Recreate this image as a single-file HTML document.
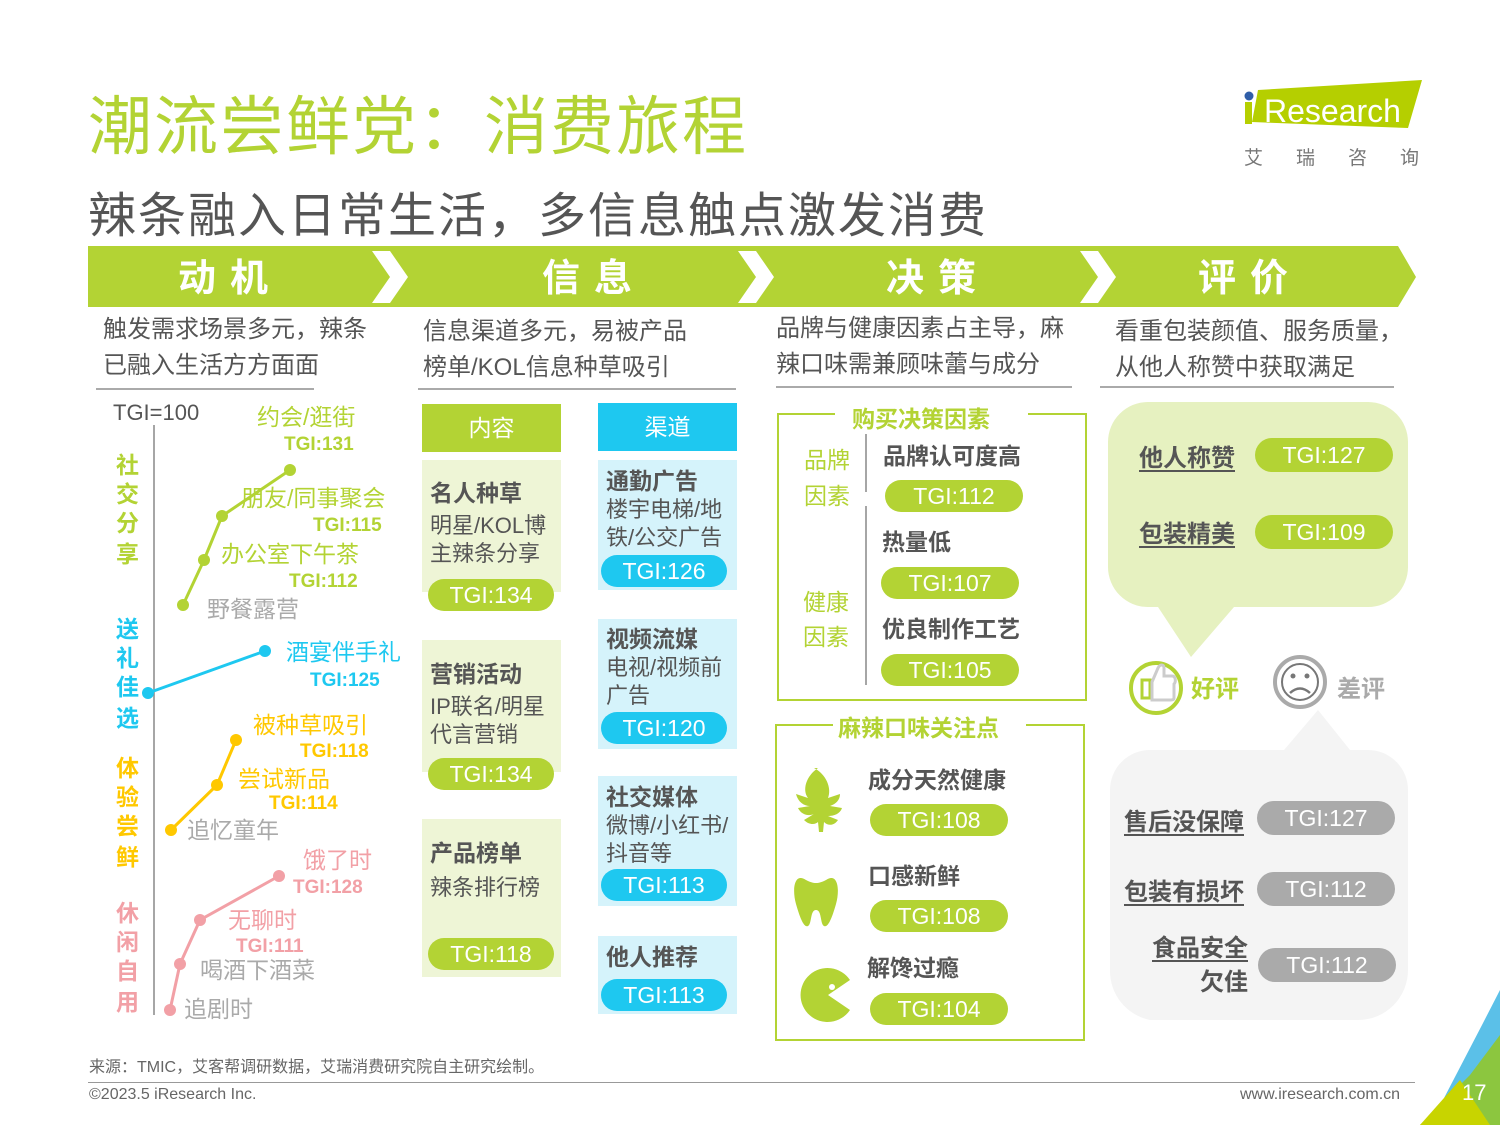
<!DOCTYPE html>
<html><head><meta charset="utf-8">
<style>
*{margin:0;padding:0;box-sizing:border-box}
body{width:1500px;height:1125px;background:#fff;position:relative;overflow:hidden;font-family:"Liberation Sans","Noto Sans CJK SC",sans-serif;color:#555}
.a{position:absolute;white-space:nowrap}
.pill{position:absolute;border-radius:16px;color:#fff;text-align:center;font-size:23px;line-height:32px;height:32px}
.g{background:#b3d334}.b{background:#1ec8f0}.gr{background:#aaa}
.bold{font-weight:bold}
.sub{font-size:24px;color:#555;line-height:36px}
.box{position:absolute}
.u{text-decoration:underline;text-underline-offset:4px}
</style></head><body>
<div class="a" style="left:88px;top:76px;font-size:64px;color:#b3d334;letter-spacing:2px">潮流尝鲜党：消费旅程</div>
<div class="a" style="left:88px;top:176px;font-size:48px;color:#555;letter-spacing:2px">辣条融入日常生活，多信息触点激发消费</div>
<!-- logo -->
<svg class="a" style="left:1240px;top:78px" width="190" height="100">
<polygon points="18,12 182,2 168,50 12,44" fill="#b5cf00"/>
<circle cx="9" cy="18" r="4.5" fill="#2f5ea8"/>
<rect x="5" y="24" width="7" height="22" fill="#b5cf00"/>
<text x="24" y="44" font-size="32" fill="#fff" font-family="Liberation Sans">Research</text>
<text x="4" y="86" font-size="19" fill="#777" font-family="Noto Sans CJK SC" letter-spacing="33">艾瑞咨询</text>
</svg>
<!-- header bar -->
<svg class="a" style="left:88px;top:246px" width="1330" height="62">
<polygon points="0,0 1310,0 1328,31 1310,61 0,61" fill="#b3d334"/>
<g fill="#fff">
<polygon points="284,5 302,5 320,31 302,57 284,57 302,31"/>
<polygon points="650,5 668,5 686,31 668,57 650,57 668,31"/>
<polygon points="992,5 1010,5 1028,31 1010,57 992,57 1010,31"/>
</g>
<g fill="#fff" font-size="38" font-weight="bold" font-family="Noto Sans CJK SC" text-anchor="middle">
<text x="142" y="45" letter-spacing="14">动机</text>
<text x="506" y="45" letter-spacing="14">信息</text>
<text x="850" y="45" letter-spacing="14">决策</text>
<text x="1162" y="45" letter-spacing="14">评价</text>
</g>
</svg>
<div class="a sub" style="left:103px;top:312px">触发需求场景多元，辣条<br>已融入生活方方面面</div>
<div class="a" style="left:96px;top:388px;width:218px;height:2px;background:#aaa"></div>
<div class="a sub" style="left:423px;top:314px">信息渠道多元，易被产品<br>榜单/KOL信息种草吸引</div>
<div class="a" style="left:418px;top:388px;width:318px;height:2px;background:#aaa"></div>
<div class="a sub" style="left:776px;top:311px">品牌与健康因素占主导，麻<br>辣口味需兼顾味蕾与成分</div>
<div class="a" style="left:776px;top:386px;width:296px;height:2px;background:#aaa"></div>
<div class="a sub" style="left:1115px;top:314px">看重包装颜值、服务质量，<br>从他人称赞中获取满足</div>
<div class="a" style="left:1100px;top:386px;width:294px;height:2px;background:#aaa"></div>

<!-- left chart -->
<svg class="a" style="left:0;top:0" width="420" height="1030">
<line x1="154" y1="425" x2="154" y2="1015" stroke="#888" stroke-width="1.5"/>
<polyline points="183,605 204,560 222,516 290,470" fill="none" stroke="#b3d334" stroke-width="3"/>
<g fill="#b3d334"><circle cx="183" cy="605" r="6"/><circle cx="204" cy="560" r="6"/><circle cx="222" cy="516" r="6"/><circle cx="290" cy="470" r="6"/></g>
<polyline points="148,693 265,651" fill="none" stroke="#1ec8f0" stroke-width="3"/>
<g fill="#1ec8f0"><circle cx="148" cy="693" r="6"/><circle cx="265" cy="651" r="6"/></g>
<polyline points="171,830 217,785 236,740" fill="none" stroke="#ffc800" stroke-width="3"/>
<g fill="#ffc800"><circle cx="171" cy="830" r="6"/><circle cx="217" cy="785" r="6"/><circle cx="236" cy="740" r="6"/></g>
<polyline points="170,1010 180,964 200,920 279,876" fill="none" stroke="#f2a0a6" stroke-width="3"/>
<g fill="#f2a0a6"><circle cx="170" cy="1010" r="6"/><circle cx="180" cy="964" r="6"/><circle cx="200" cy="920" r="6"/><circle cx="279" cy="876" r="6"/></g>
<g font-family="Liberation Sans,Noto Sans CJK SC" font-size="23">
<text x="113" y="420" fill="#555" font-size="22">TGI=100</text>
<text x="257" y="425" fill="#b3d334">约会/逛街</text>
<text x="284" y="450" fill="#b3d334" font-size="19" font-weight="bold">TGI:131</text>
<text x="241" y="506" fill="#b3d334">朋友/同事聚会</text>
<text x="313" y="531" fill="#b3d334" font-size="19" font-weight="bold">TGI:115</text>
<text x="221" y="562" fill="#b3d334">办公室下午茶</text>
<text x="289" y="587" fill="#b3d334" font-size="19" font-weight="bold">TGI:112</text>
<text x="207" y="617" fill="#aaa">野餐露营</text>
<text x="286" y="660" fill="#1ec8f0">酒宴伴手礼</text>
<text x="310" y="686" fill="#1ec8f0" font-size="19" font-weight="bold">TGI:125</text>
<text x="253" y="733" fill="#ffc800">被种草吸引</text>
<text x="300" y="757" fill="#ffc800" font-size="19" font-weight="bold">TGI:118</text>
<text x="238" y="787" fill="#ffc800">尝试新品</text>
<text x="269" y="809" fill="#ffc800" font-size="19" font-weight="bold">TGI:114</text>
<text x="187" y="838" fill="#aaa">追忆童年</text>
<text x="303" y="868" fill="#f2a0a6">饿了时</text>
<text x="293" y="893" fill="#f2a0a6" font-size="19" font-weight="bold">TGI:128</text>
<text x="228" y="928" fill="#f2a0a6">无聊时</text>
<text x="236" y="952" fill="#f2a0a6" font-size="19" font-weight="bold">TGI:111</text>
<text x="200" y="978" fill="#aaa">喝酒下酒菜</text>
<text x="184" y="1017" fill="#aaa">追剧时</text>
</g>
<g font-family="Noto Sans CJK SC" font-size="23" font-weight="bold">
<text x="116" y="473" fill="#b3d334">社</text><text x="116" y="502" fill="#b3d334">交</text><text x="116" y="531" fill="#b3d334">分</text><text x="116" y="562" fill="#b3d334">享</text>
<text x="116" y="637" fill="#1ec8f0">送</text><text x="116" y="666" fill="#1ec8f0">礼</text><text x="116" y="695" fill="#1ec8f0">佳</text><text x="116" y="726" fill="#1ec8f0">选</text>
<text x="116" y="776" fill="#ffc800">体</text><text x="116" y="805" fill="#ffc800">验</text><text x="116" y="834" fill="#ffc800">尝</text><text x="116" y="865" fill="#ffc800">鲜</text>
<text x="116" y="921" fill="#f2a0a6">休</text><text x="116" y="950" fill="#f2a0a6">闲</text><text x="116" y="979" fill="#f2a0a6">自</text><text x="116" y="1010" fill="#f2a0a6">用</text>
</g>
</svg>

<!-- info column -->
<div class="box" style="left:422px;top:404px;width:139px;height:48px;background:#b3d334;color:#fff;font-size:23px;text-align:center;line-height:48px">内容</div>
<div class="box" style="left:598px;top:403px;width:139px;height:48px;background:#1ec8f0;color:#fff;font-size:23px;text-align:center;line-height:48px">渠道</div>
<div class="box" style="left:422px;top:460px;width:139px;height:132px;background:#eef5d6"></div>
<div class="box" style="left:422px;top:640px;width:139px;height:132px;background:#eef5d6"></div>
<div class="box" style="left:422px;top:819px;width:139px;height:158px;background:#eef5d6"></div>
<div class="a" style="left:430px;top:476px;font-size:23px;font-weight:bold;line-height:34px">名人种草</div>
<div class="a" style="left:430px;top:512px;font-size:22px;line-height:28px">明星/KOL博<br>主辣条分享</div>
<div class="pill g" style="left:428px;top:579px;width:126px">TGI:134</div>
<div class="a" style="left:430px;top:657px;font-size:23px;font-weight:bold;line-height:34px">营销活动</div>
<div class="a" style="left:430px;top:693px;font-size:22px;line-height:28px">IP联名/明星<br>代言营销</div>
<div class="pill g" style="left:428px;top:758px;width:126px">TGI:134</div>
<div class="a" style="left:430px;top:836px;font-size:23px;font-weight:bold;line-height:34px">产品榜单</div>
<div class="a" style="left:430px;top:874px;font-size:22px;line-height:28px">辣条排行榜</div>
<div class="pill g" style="left:428px;top:938px;width:126px">TGI:118</div>

<div class="box" style="left:598px;top:460px;width:139px;height:130px;background:#d5f3fb"></div>
<div class="box" style="left:598px;top:619px;width:139px;height:130px;background:#d5f3fb"></div>
<div class="box" style="left:598px;top:776px;width:139px;height:130px;background:#d5f3fb"></div>
<div class="box" style="left:598px;top:936px;width:139px;height:78px;background:#d5f3fb"></div>
<div class="a" style="left:606px;top:464px;font-size:23px;font-weight:bold;line-height:34px">通勤广告</div>
<div class="a" style="left:606px;top:496px;font-size:22px;line-height:28px">楼宇电梯/地<br>铁/公交广告</div>
<div class="pill b" style="left:601px;top:555px;width:126px">TGI:126</div>
<div class="a" style="left:606px;top:622px;font-size:23px;font-weight:bold;line-height:34px">视频流媒</div>
<div class="a" style="left:606px;top:654px;font-size:22px;line-height:28px">电视/视频前<br>广告</div>
<div class="pill b" style="left:601px;top:712px;width:126px">TGI:120</div>
<div class="a" style="left:606px;top:780px;font-size:23px;font-weight:bold;line-height:34px">社交媒体</div>
<div class="a" style="left:606px;top:812px;font-size:22px;line-height:28px">微博/小红书/<br>抖音等</div>
<div class="pill b" style="left:601px;top:869px;width:126px">TGI:113</div>
<div class="a" style="left:606px;top:940px;font-size:23px;font-weight:bold;line-height:34px">他人推荐</div>
<div class="pill b" style="left:601px;top:979px;width:126px">TGI:113</div>

<!-- decision -->
<svg class="a" style="left:770px;top:400px" width="330" height="645">
<g fill="none" stroke="#b3d334" stroke-width="2">
<polyline points="65,14 8,14 8,300 316,300 316,14 258,14"/>
<polyline points="63,325 6,325 6,640 314,640 314,325 256,325"/>
</g>
<line x1="96" y1="34" x2="96" y2="92" stroke="#888" stroke-width="1.5"/>
<line x1="96" y1="106" x2="96" y2="285" stroke="#888" stroke-width="1.5"/>
<g fill="#b3d334">
<path d="M48,368 c-12,8 -16,22 -10,30 l-12,-4 c2,8 8,12 14,12 l-12,2 c4,8 12,8 16,6 l-10,6 c6,6 12,4 14,2 l1,10 h4 l1,-10 c4,4 10,4 14,-2 l-10,-4 c6,0 12,-2 14,-8 l-12,-2 c6,-2 10,-6 10,-12 l-12,4 c4,-10 -2,-24 -14,-30 z"/>
<path d="M36,480 c-12,-8 -14,10 -10,24 c4,14 8,24 12,22 c4,-2 2,-16 8,-16 c6,0 4,14 8,16 c4,2 8,-8 12,-22 c4,-14 2,-32 -10,-24 c-8,4 -12,4 -20,0 z"/>
<path d="M80,580 a27,27 0 1 0 0,30 l-22,-15 z"/>
</g>
<circle cx="62" cy="587" r="3" fill="#fff"/>
<g font-family="Noto Sans CJK SC" font-size="23">
<text x="82" y="27" fill="#b3d334" font-weight="bold">购买决策因素</text>
<text x="68" y="336" fill="#b3d334" font-weight="bold">麻辣口味关注点</text>
<text x="34" y="68" fill="#b3d334">品牌</text><text x="34" y="104" fill="#b3d334">因素</text>
<text x="33" y="210" fill="#b3d334">健康</text><text x="33" y="245" fill="#b3d334">因素</text>
<text x="113" y="64" fill="#555" font-weight="bold">品牌认可度高</text>
<text x="112" y="150" fill="#555" font-weight="bold">热量低</text>
<text x="112" y="237" fill="#555" font-weight="bold">优良制作工艺</text>
<text x="98" y="388" fill="#555" font-weight="bold">成分天然健康</text>
<text x="98" y="484" fill="#555" font-weight="bold">口感新鲜</text>
<text x="97" y="576" fill="#555" font-weight="bold">解馋过瘾</text>
</g>
</svg>
<div class="pill g" style="left:885px;top:480px;width:138px">TGI:112</div>
<div class="pill g" style="left:881px;top:567px;width:138px">TGI:107</div>
<div class="pill g" style="left:881px;top:654px;width:138px">TGI:105</div>
<div class="pill g" style="left:870px;top:804px;width:138px">TGI:108</div>
<div class="pill g" style="left:870px;top:900px;width:138px">TGI:108</div>
<div class="pill g" style="left:870px;top:993px;width:138px">TGI:104</div>

<!-- evaluation -->
<svg class="a" style="left:1100px;top:400px" width="320" height="630">
<path d="M48,2 h220 a40,40 0 0 1 40,40 v125 a40,40 0 0 1 -40,40 h-134 l-43,50 l-33,-50 h-10 a40,40 0 0 1 -40,-40 v-125 a40,40 0 0 1 40,-40 z" fill="#e6f1c0"/>
<path d="M50,350 h134 l34,-40 l32,40 h18 a40,40 0 0 1 40,40 v180 a50,50 0 0 1 -50,50 h-208 a50,50 0 0 1 -40,-50 v-180 a40,40 0 0 1 40,-40 z" fill="#f4f4f4"/>
<circle cx="56" cy="288" r="25" fill="none" stroke="#b3d334" stroke-width="4"/>
<rect x="42" y="280" width="8" height="18" fill="none" stroke="#b3d334" stroke-width="3"/>
<path d="M52,282 l6,-14 c2,-4 6,-4 6,0 v8 h8 c4,0 4,6 2,8 v14 c0,2 -2,2 -4,2 h-18 z" fill="none" stroke="#ccc" stroke-width="3"/>
<circle cx="200" cy="282" r="25" fill="none" stroke="#aaa" stroke-width="4"/>
<circle cx="200" cy="282" r="18" fill="none" stroke="#777" stroke-width="2"/>
<circle cx="193" cy="276" r="2.5" fill="#777"/><circle cx="207" cy="276" r="2.5" fill="#777"/>
<path d="M190,293 q10,-9 20,0" fill="none" stroke="#777" stroke-width="2.5"/>
<g font-family="Noto Sans CJK SC" font-size="24" font-weight="bold">
<text x="91" y="297" fill="#b3d334">好评</text>
<text x="237" y="297" fill="#aaa">差评</text>
</g>
</svg>
<div class="a u bold" style="left:1139px;top:438px;font-size:24px;color:#555">他人称赞</div>
<div class="pill g" style="left:1255px;top:438px;width:138px;height:34px;line-height:34px;border-radius:17px">TGI:127</div>
<div class="a u bold" style="left:1139px;top:514px;font-size:24px;color:#555">包装精美</div>
<div class="pill g" style="left:1255px;top:515px;width:138px;height:34px;line-height:34px;border-radius:17px">TGI:109</div>
<div class="a u bold" style="left:1124px;top:802px;font-size:24px;color:#555">售后没保障</div>
<div class="pill gr" style="left:1257px;top:801px;width:138px;height:34px;line-height:34px;border-radius:17px">TGI:127</div>
<div class="a u bold" style="left:1124px;top:872px;font-size:24px;color:#555">包装有损坏</div>
<div class="pill gr" style="left:1257px;top:872px;width:138px;height:34px;line-height:34px;border-radius:17px">TGI:112</div>
<div class="a bold" style="left:1152px;top:932px;font-size:24px;color:#555;text-align:right;line-height:34px"><span class="u">食品安全</span><br><span style="padding-left:48px">欠佳</span></div>
<div class="pill gr" style="left:1258px;top:948px;width:138px;height:34px;line-height:34px;border-radius:17px">TGI:112</div>

<!-- footer -->
<div class="a" style="left:89px;top:1053px;font-size:16px;color:#666">来源：TMIC，艾客帮调研数据，艾瑞消费研究院自主研究绘制。</div>
<div class="a" style="left:88px;top:1082px;width:1327px;height:1px;background:#999"></div>
<div class="a" style="left:89px;top:1086px;font-size:16px;color:#666">©2023.5 iResearch Inc.</div>
<div class="a" style="left:1240px;top:1086px;font-size:16px;color:#666">www.iresearch.com.cn</div>
<svg class="a" style="left:1420px;top:990px" width="80" height="135">
<polygon points="80,0 80,80 45,135 10,135 62,35" fill="#5bc0e8"/>
<polygon points="0,135 50,85 80,45 80,135" fill="#8cc63f"/>
<polygon points="0,135 40,90 70,135" fill="#c8d400"/>
<text x="42" y="110" font-size="22" fill="#fff" font-family="Liberation Sans">17</text>
</svg>
</body></html>
